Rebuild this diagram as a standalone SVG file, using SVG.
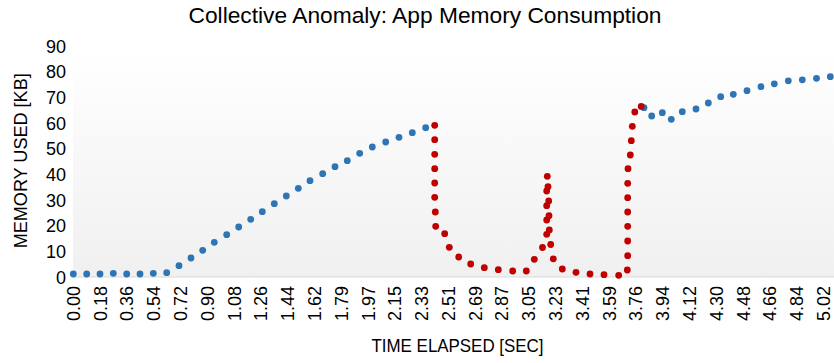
<svg xmlns="http://www.w3.org/2000/svg" width="834" height="363" viewBox="0 0 834 363">
<defs>
<linearGradient id="bg" x1="0" y1="0" x2="0" y2="1">
<stop offset="0" stop-color="#ffffff"/>
<stop offset="1" stop-color="#f0f0f0"/>
</linearGradient>
</defs>
<style>
text{font-family:"Liberation Sans",Arial,sans-serif;fill:#000}
.t{font-size:21.5px}
.ax{font-size:18px}
.tk{font-size:18px}
.xl{font-size:18px;text-anchor:end}
.yl{font-size:18px;text-anchor:end}
.b circle{fill:#2e75b6}
.r circle{fill:#c00000}
</style>
<rect x="0" y="0" width="834" height="363" fill="#ffffff"/>
<rect id="plot" x="73" y="46" width="761" height="231" fill="url(#bg)"/>
<line x1="73" y1="277" x2="834" y2="277" stroke="#d9d9d9" stroke-width="1.2"/>
<text class="t" x="425" y="23" text-anchor="middle" textLength="473" lengthAdjust="spacingAndGlyphs">Collective Anomaly: App Memory Consumption</text>
<g id="ylabels" class="yl">
<text x="66" y="52.5">90</text>
<text x="66" y="78.2">80</text>
<text x="66" y="103.8">70</text>
<text x="66" y="129.5">60</text>
<text x="66" y="155.2">50</text>
<text x="66" y="180.8">40</text>
<text x="66" y="206.5">30</text>
<text x="66" y="232.2">20</text>
<text x="66" y="257.8">10</text>
<text x="66" y="283.5">0</text>
</g>
<text class="ax" transform="translate(26.5,160.8) rotate(-90)" text-anchor="middle" textLength="175" lengthAdjust="spacingAndGlyphs">MEMORY USED [KB]</text>
<text class="ax" x="457.5" y="352" text-anchor="middle" textLength="172" lengthAdjust="spacingAndGlyphs">TIME ELAPSED [SEC]</text>
<g id="xlabels" class="xl">
<text transform="translate(79.8,286) rotate(-90)">0.00</text>
<text transform="translate(106.6,286) rotate(-90)">0.18</text>
<text transform="translate(133.4,286) rotate(-90)">0.36</text>
<text transform="translate(160.2,286) rotate(-90)">0.54</text>
<text transform="translate(187.0,286) rotate(-90)">0.72</text>
<text transform="translate(213.8,286) rotate(-90)">0.90</text>
<text transform="translate(240.5,286) rotate(-90)">1.08</text>
<text transform="translate(267.3,286) rotate(-90)">1.26</text>
<text transform="translate(294.1,286) rotate(-90)">1.44</text>
<text transform="translate(320.9,286) rotate(-90)">1.62</text>
<text transform="translate(347.7,286) rotate(-90)">1.79</text>
<text transform="translate(374.5,286) rotate(-90)">1.97</text>
<text transform="translate(401.3,286) rotate(-90)">2.15</text>
<text transform="translate(428.1,286) rotate(-90)">2.33</text>
<text transform="translate(454.9,286) rotate(-90)">2.51</text>
<text transform="translate(481.7,286) rotate(-90)">2.69</text>
<text transform="translate(508.4,286) rotate(-90)">2.87</text>
<text transform="translate(535.2,286) rotate(-90)">3.05</text>
<text transform="translate(562.0,286) rotate(-90)">3.23</text>
<text transform="translate(588.8,286) rotate(-90)">3.41</text>
<text transform="translate(615.6,286) rotate(-90)">3.59</text>
<text transform="translate(642.4,286) rotate(-90)">3.76</text>
<text transform="translate(669.2,286) rotate(-90)">3.94</text>
<text transform="translate(696.0,286) rotate(-90)">4.12</text>
<text transform="translate(722.8,286) rotate(-90)">4.30</text>
<text transform="translate(749.6,286) rotate(-90)">4.48</text>
<text transform="translate(776.3,286) rotate(-90)">4.66</text>
<text transform="translate(803.1,286) rotate(-90)">4.84</text>
<text transform="translate(829.9,286) rotate(-90)">5.02</text>
</g>
<g id="normal-1" class="b">
<circle cx="73.3" cy="274" r="3.4"/>
<circle cx="86.7" cy="274" r="3.4"/>
<circle cx="100" cy="274" r="3.4"/>
<circle cx="113.3" cy="273.3" r="3.4"/>
<circle cx="126.7" cy="274" r="3.4"/>
<circle cx="140" cy="274" r="3.4"/>
<circle cx="153.3" cy="273.3" r="3.4"/>
<circle cx="166.7" cy="272.7" r="3.4"/>
<circle cx="179" cy="265.7" r="3.4"/>
<circle cx="191" cy="258" r="3.4"/>
<circle cx="202.7" cy="250.3" r="3.4"/>
<circle cx="214.3" cy="242.3" r="3.4"/>
<circle cx="226.7" cy="234.7" r="3.4"/>
<circle cx="238.7" cy="227" r="3.4"/>
<circle cx="250.7" cy="219.3" r="3.4"/>
<circle cx="262.3" cy="211.7" r="3.4"/>
<circle cx="274.3" cy="203.7" r="3.4"/>
<circle cx="286.3" cy="196" r="3.4"/>
<circle cx="298.3" cy="188.3" r="3.4"/>
<circle cx="310" cy="180.7" r="3.4"/>
<circle cx="322.7" cy="173.7" r="3.4"/>
<circle cx="335" cy="166.7" r="3.4"/>
<circle cx="347.3" cy="160.7" r="3.4"/>
<circle cx="359.7" cy="153.3" r="3.4"/>
<circle cx="372.3" cy="147" r="3.4"/>
<circle cx="385.7" cy="142" r="3.4"/>
<circle cx="399" cy="137.3" r="3.4"/>
<circle cx="412.3" cy="132.7" r="3.4"/>
<circle cx="425.7" cy="127.7" r="3.4"/>
</g>
<g id="normal-2" class="b">
<circle cx="644" cy="107.7" r="3.4"/>
<circle cx="651.7" cy="116" r="3.4"/>
<circle cx="662.3" cy="112.7" r="3.4"/>
<circle cx="671.3" cy="119.3" r="3.4"/>
<circle cx="682.3" cy="111.7" r="3.4"/>
<circle cx="696" cy="109" r="3.4"/>
<circle cx="708.3" cy="103" r="3.4"/>
<circle cx="720.7" cy="96.7" r="3.4"/>
<circle cx="733.3" cy="94.3" r="3.4"/>
<circle cx="747" cy="90.7" r="3.4"/>
<circle cx="761" cy="86.7" r="3.4"/>
<circle cx="774.3" cy="83.8" r="3.4"/>
<circle cx="788.3" cy="80.8" r="3.4"/>
<circle cx="802.3" cy="79.8" r="3.4"/>
<circle cx="816.5" cy="78.3" r="3.4"/>
<circle cx="830.3" cy="76.7" r="3.4"/>
</g>
<g id="anomaly" class="r">
<circle cx="434.7" cy="125.3" r="3.4"/>
<circle cx="434.7" cy="139.7" r="3.4"/>
<circle cx="434.7" cy="154.3" r="3.4"/>
<circle cx="434.7" cy="168.7" r="3.4"/>
<circle cx="434.7" cy="183" r="3.4"/>
<circle cx="434.7" cy="197.3" r="3.4"/>
<circle cx="435.3" cy="212" r="3.4"/>
<circle cx="435.7" cy="226.3" r="3.4"/>
<circle cx="444.7" cy="233.7" r="3.4"/>
<circle cx="449.3" cy="247.3" r="3.4"/>
<circle cx="458.7" cy="257" r="3.4"/>
<circle cx="470.7" cy="264" r="3.4"/>
<circle cx="484.3" cy="267.7" r="3.4"/>
<circle cx="498.3" cy="269.7" r="3.4"/>
<circle cx="512.7" cy="271" r="3.4"/>
<circle cx="526.3" cy="271" r="3.4"/>
<circle cx="534.3" cy="259.3" r="3.4"/>
<circle cx="542.5" cy="247.5" r="3.4"/>
<circle cx="546.7" cy="234.3" r="3.4"/>
<circle cx="546.7" cy="220" r="3.4"/>
<circle cx="546.7" cy="205.7" r="3.4"/>
<circle cx="546.7" cy="191" r="3.4"/>
<circle cx="547.3" cy="176.3" r="3.4"/>
<circle cx="548" cy="186.7" r="3.4"/>
<circle cx="548.7" cy="201" r="3.4"/>
<circle cx="549" cy="215.7" r="3.4"/>
<circle cx="549.3" cy="230" r="3.4"/>
<circle cx="550.7" cy="244.5" r="3.4"/>
<circle cx="553.3" cy="258.8" r="3.4"/>
<circle cx="562.3" cy="269" r="3.4"/>
<circle cx="576" cy="272.3" r="3.4"/>
<circle cx="590" cy="274" r="3.4"/>
<circle cx="604" cy="274.7" r="3.4"/>
<circle cx="618.7" cy="275.3" r="3.4"/>
<circle cx="627.3" cy="270" r="3.4"/>
<circle cx="627.7" cy="255.7" r="3.4"/>
<circle cx="627.7" cy="241" r="3.4"/>
<circle cx="627.7" cy="226.3" r="3.4"/>
<circle cx="627.7" cy="212" r="3.4"/>
<circle cx="627.7" cy="197.7" r="3.4"/>
<circle cx="627.7" cy="183.3" r="3.4"/>
<circle cx="628" cy="168.7" r="3.4"/>
<circle cx="630.3" cy="155" r="3.4"/>
<circle cx="631.3" cy="140.7" r="3.4"/>
<circle cx="632.3" cy="126.3" r="3.4"/>
<circle cx="634.8" cy="112" r="3.4"/>
<circle cx="641.2" cy="106.4" r="3.4"/>
</g>
</svg>
